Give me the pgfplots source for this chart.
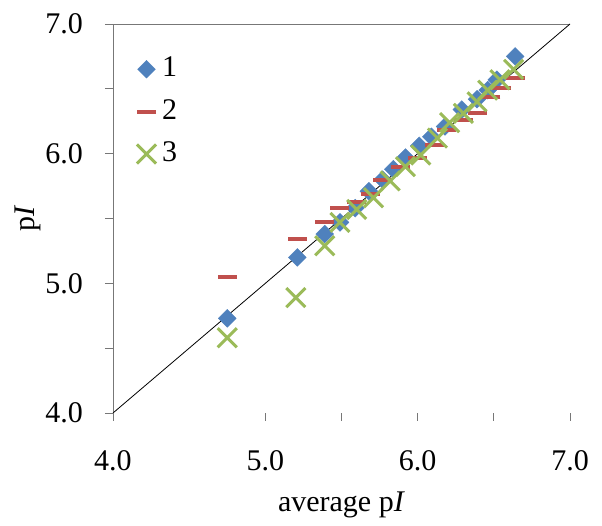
\documentclass[border=0pt]{standalone}
\usepackage{pgfplots}
\pgfplotsset{compat=1.18}
\usepackage{fontspec}
\setmainfont{Liberation Serif}
\definecolor{c1}{HTML}{4F81BD}
\definecolor{c2}{HTML}{C0504D}
\definecolor{c3}{HTML}{9BBB59}
\definecolor{axgray}{HTML}{777777}
\begin{document}
\fontsize{30}{36}\selectfont
\begin{tikzpicture}
\begin{axis}[
  scale only axis,
  width=457pt, height=389pt,
  xmin=4, xmax=7, ymin=4, ymax=7,
  axis lines*=left,
  x axis line style={draw=none},
  y axis line style={draw=axgray, line width=0.8pt},
  xtick={4,5,6,7},
  ytick={4,5,6},
  extra y ticks={7},
  extra y tick style={grid=major, major grid style={draw=axgray, line width=0.8pt}},
  minor xtick={5.5,6.5},
  minor ytick={4.5,5.5,6.5},
  tick align=outside,
  major tick length=8pt, minor tick length=8pt,
  every tick/.style={draw=axgray, line width=0.8pt},
  /pgf/number format/assume math mode=true,
  /pgf/number format/.cd, fixed, fixed zerofill, precision=1,
  /pgfplots/.cd,
  ticklabel style={font=\fontsize{30}{36}\selectfont},
  xticklabel style={yshift=-19pt},
  yticklabel style={xshift=-12pt},
  xlabel={average p\textit{I}},
  ylabel={p\textit{I}},
  label style={font=\fontsize{30}{36}\selectfont},
  xlabel style={yshift=-1pt},
  ylabel style={yshift=-32pt},
  legend style={at={(axis description cs:0.052,0.918)}, anchor=north west, draw=none, fill=none,
    font=\fontsize{30}{36}\selectfont, row sep=16pt, column sep=5pt, inner sep=0pt,
    nodes={inner sep=1pt}},
  legend cell align=left,
]
\addplot[black, line width=0.8pt, forget plot] coordinates {(4,4) (7,7)};
\addplot[only marks, mark=square*, mark size=6.3pt, mark options={rotate=45, fill=c1, draw=c1}] coordinates {
(4.75,4.73) (5.21,5.20) (5.39,5.38) (5.49,5.47) (5.59,5.58) (5.68,5.71) (5.77,5.80) (5.84,5.88)
(5.92,5.97) (6.01,6.06) (6.09,6.13) (6.18,6.21) (6.29,6.34) (6.39,6.42) (6.46,6.49) (6.52,6.57) (6.64,6.75)};
\addlegendentry{1}
\addplot[only marks, mark=-, mark size=9.5pt, mark options={draw=c2, line width=4pt}] coordinates {
(4.75,5.05) (5.21,5.34) (5.39,5.47) (5.49,5.58) (5.60,5.63) (5.69,5.69) (5.77,5.80) (5.89,5.90)
(6.00,5.97) (6.11,6.07) (6.19,6.18) (6.30,6.26) (6.39,6.31) (6.48,6.44) (6.55,6.51) (6.64,6.58)};
\addlegendentry{2}
\addplot[only marks, mark=x, mark size=13.5pt, mark options={draw=c3, line width=3pt}] coordinates {
(4.75,4.58) (5.20,4.89) (5.39,5.29) (5.49,5.47) (5.60,5.57) (5.71,5.66) (5.82,5.79) (5.92,5.90)
(6.02,5.99) (6.13,6.12) (6.21,6.24) (6.30,6.31) (6.39,6.40) (6.46,6.49) (6.54,6.57) (6.63,6.65)};
\addlegendentry{3}
\path (rel axis cs:0,0) ++(-113pt,-113pt) coordinate (bbA);
\path (rel axis cs:1,1) ++(32pt,24pt) coordinate (bbB);
\end{axis}
\pgfresetboundingbox
\useasboundingbox (bbA) rectangle (bbB);
\end{tikzpicture}
\end{document}
